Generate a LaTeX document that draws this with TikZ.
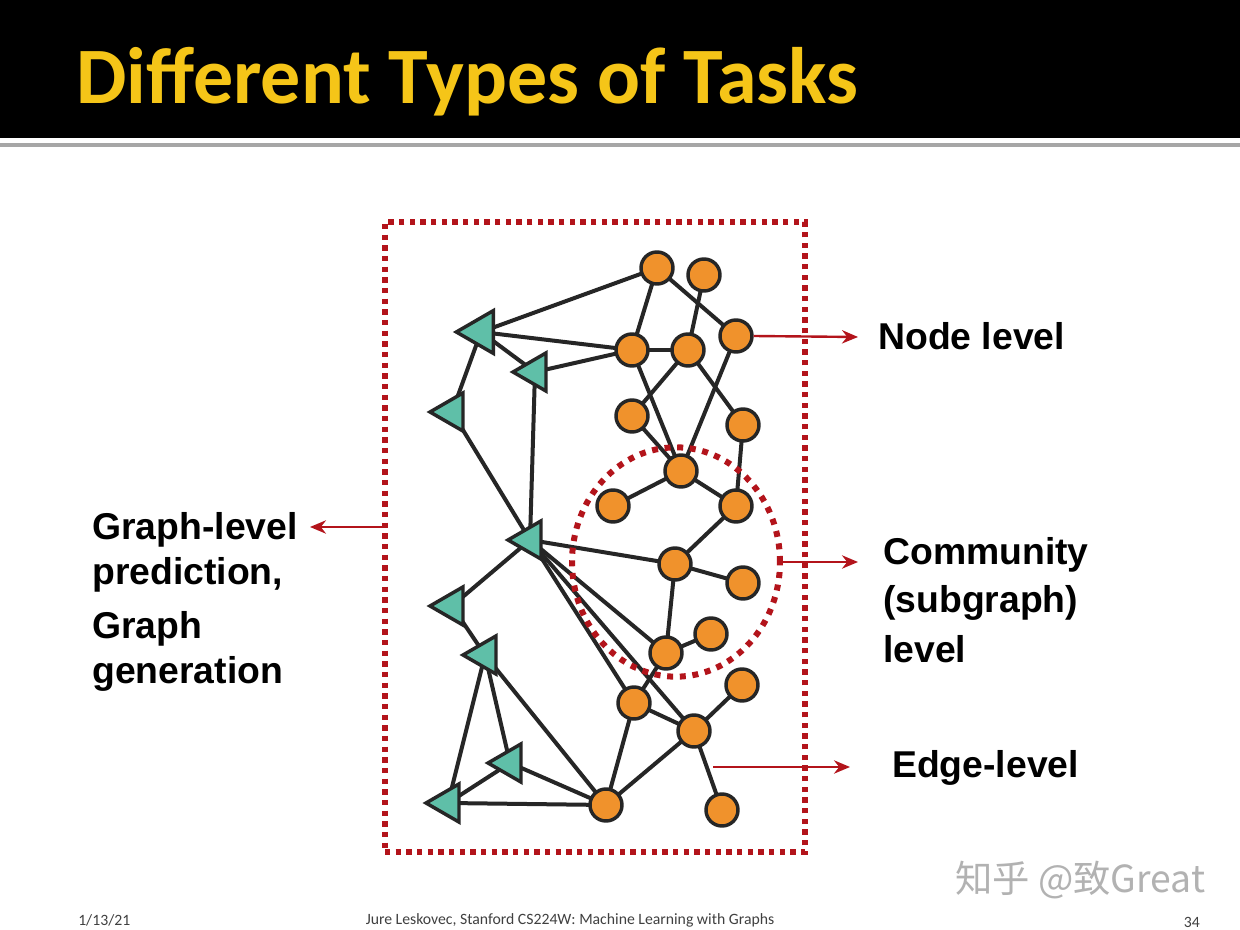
\documentclass[tikz,border=0pt]{standalone}
\usepackage{fontspec}
\setmainfont{Liberation Sans}
\newfontfamily\titlefont{Carlito}
\newfontfamily\cjk{Noto Sans CJK SC}
\usetikzlibrary{shapes.geometric,backgrounds,arrows.meta}
\definecolor{tri}{HTML}{5FBFA8}
\definecolor{org}{HTML}{F0922C}
\definecolor{dred}{HTML}{B3141B}
\definecolor{gold}{HTML}{F5C518}
\begin{document}
\begin{tikzpicture}[x=0.75pt,y=-0.75pt,
  onode/.style={circle,draw=black!85,line width=2.6pt,fill=org,minimum size=24pt,inner sep=0pt},
  tnode/.style={regular polygon,regular polygon sides=3,shape border rotate=90,draw=black!85,line width=2.6pt,fill=tri,minimum size=33pt,inner sep=0pt},
  edge/.style={line width=3pt,draw=black!85},
  redarrow/.style={dred,line width=1.8pt,-{Stealth[length=12pt,width=10pt]}},
  lab/.style={font=\fontsize{28}{34}\selectfont\bfseries,anchor=west,align=left,inner sep=0pt},
  foot/.style={font=\titlefont\fontsize{11.8}{13}\selectfont,text=black!75,inner sep=0pt}]
\useasboundingbox (0,0) rectangle (1240,930);
\node[anchor=base west,inner sep=0pt,text=gold,font=\titlefont\bfseries\fontsize{60}{68}\selectfont] (title) at (76,104) {Different Types of Tasks};
% orange nodes
\node[onode] (o1) at (657,268) {};
\node[onode] (o2) at (704,275) {};
\node[onode] (o3) at (736,336) {};
\node[onode] (o4) at (632,350) {};
\node[onode] (o5) at (688,350) {};
\node[onode] (o6) at (632,416) {};
\node[onode] (o7) at (743,425) {};
\node[onode] (o8) at (681,471) {};
\node[onode] (o9) at (613,506) {};
\node[onode] (o10) at (736,506) {};
\node[onode] (o11) at (675,564) {};
\node[onode] (o12) at (743,583) {};
\node[onode] (o13) at (711,634) {};
\node[onode] (o14) at (666,653) {};
\node[onode] (o15) at (742,685) {};
\node[onode] (o16) at (634,703) {};
\node[onode] (o17) at (694,731) {};
\node[onode] (o18) at (606,805) {};
\node[onode] (o19) at (722,810) {};
% triangles
\node[tnode,minimum size=37pt] (t1) at (481,332) {};
\node[tnode] (t2) at (535,372) {};
\node[tnode] (t3) at (452,412) {};
\node[tnode] (t4) at (530,540) {};
\node[tnode] (t5) at (452,606) {};
\node[tnode] (t6) at (485,655) {};
\node[tnode] (t7) at (510,763) {};
\node[tnode] (t8) at (448,803) {};
\begin{scope}[on background layer]
\fill[white] (0,0) rectangle (1240,930);
\fill[black] (0,0) rectangle (1240,138);
\fill[black!35] (0,143) rectangle (1240,147);
\foreach \a/\b in {o1/t1,o1/o4,o1/o3,o2/o5,o4/t1,o4/t2,t1/t2,t1/t3,o4/o5,o4/o8,o5/o6,o5/o7,o3/o8,o6/o8,o7/o10,o8/o9,o8/o10,t3/t4,t2/t4,o10/o11,t4/o11,o11/o12,o11/o14,o13/o14,t4/o14,t4/o16,t4/o17,t4/t5,t5/t6,o14/o16,o16/o17,o15/o17,o16/o18,o17/o18,o17/o19,t6/o18,t6/t7,t6/t8,t7/o18,t7/t8,t8/o18}
  \draw[edge] (\a.center) -- (\b.center);
\end{scope}
% frames
\node[draw=dred,line width=4pt,dash pattern=on 4pt off 4pt,minimum width=315pt,minimum height=472.5pt,inner sep=0pt] (box) at (595,537) {};
\node[ellipse,draw=dred,line width=4.5pt,dash pattern=on 4.5pt off 5pt,minimum width=156pt,minimum height=172pt,inner sep=0pt] (comm) at (676,562) {};
% labels
\node[lab] (nl) at (878,336) {Node level};
\node[lab] (cl) at (883,600) {Community\\[2pt](subgraph)\\[4pt]level};
\node[lab] (el) at (892,768) {Edge-level};
\node[lab] (gl) at (92,602) {Graph-level\\[0pt]prediction,\\[6pt]Graph\\[0pt]generation};
\coordinate (nla) at (858,337);
\coordinate (cla) at (858,562);
\coordinate (ela) at (850,767);
\coordinate (ele) at (713,767);
\coordinate (gla) at (310,527);
\draw[redarrow] (o3.east) -- (nla);
\draw[redarrow] (comm.east) -- (cla);
\draw[redarrow] (ele) -- (ela);
\draw[redarrow] (box.west |- gla) -- (gla);
% footer
\node[foot,anchor=west] (f1) at (78,920) {1/13/21};
\node[foot] (f2) at (570,920) {Jure Leskovec, Stanford CS224W: Machine Learning with Graphs};
\node[foot,anchor=east] (f3) at (1200,922) {34};
\node[anchor=west,inner sep=0pt,text=black!30,font=\cjk\fontsize{28}{32}\selectfont] (wm) at (955,880) {知乎 @致Great};
\end{tikzpicture}
\end{document}
